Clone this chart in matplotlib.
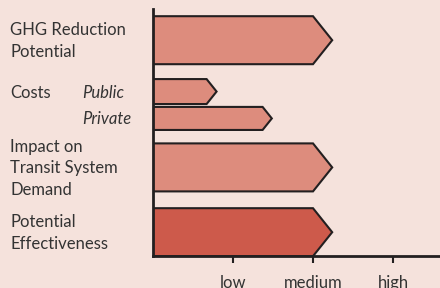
import matplotlib
matplotlib.use('Agg')
import matplotlib.pyplot as plt
from matplotlib.patches import Polygon
from matplotlib.transforms import blended_transform_factory

# ratings on a 0..3 scale (1 = low, 2 = medium, 3 = high)
labels = ['GHG Reduction\nPotential', 'Costs', '', 'Impact on\nTransit System\nDemand',
          'Potential\nEffectiveness']
sub_labels = ['', 'Public', 'Private', '', '']
values = [2.0, 0.67, 1.37, 2.0, 2.0]
tick_values = [1, 2, 3]
tick_labels = ['low', 'medium', 'high']

# layout: bar centres / heights (top-down), and which bar is highlighted
y_pos = [0.65, 1.72, 2.28, 3.3, 4.65]
heights = [1.0, 0.52, 0.48, 1.0, 1.0]
fills = ['#dd8c7d', '#dd8c7d', '#dd8c7d', '#dd8c7d', '#cd5a4b']

bg = '#f5e2dc'
edge = '#231f20'
plt.rcParams['font.family'] = ['Lato', 'DejaVu Sans']

fig = plt.figure(figsize=(4.4, 2.88), dpi=100, facecolor=bg)
ax = fig.add_axes([153 / 440, (288 - 256) / 288, 287 / 440, 247 / 288])
ax.set_facecolor(bg)
ax.set_xlim(0, 287 / 80)
ax.set_ylim(5.146, 0)

for v, y, h, c in zip(values, y_pos, heights, fills):
    tip = 0.24 * h
    pts = [(0, y - h / 2), (v, y - h / 2), (v + tip, y), (v, y + h / 2), (0, y + h / 2)]
    ax.add_patch(Polygon(pts, closed=True, facecolor=c, edgecolor=edge,
                         linewidth=1.5, joinstyle='miter', zorder=3))

for s in ['top', 'right']:
    ax.spines[s].set_visible(False)
for s in ['left', 'bottom']:
    ax.spines[s].set_color(edge)
    ax.spines[s].set_linewidth(2)
    ax.spines[s].set_zorder(4)

ax.set_yticks([])
ax.set_xticks(tick_values)
ax.set_xticklabels(tick_labels)
ax.tick_params(axis='x', direction='out', length=5, width=1.5, color=edge,
               pad=9, labelsize=12, labelcolor='#333333')

tr = blended_transform_factory(fig.transFigure, ax.transData)
for lab, sub, y in zip(labels, sub_labels, y_pos):
    if lab:
        ax.text(10 / 440, y + 0.02, lab, transform=tr, ha='left', va='center',
                fontsize=12, color='#333333', linespacing=1.45)
    if sub:
        ax.text(82 / 440, y + 0.02, sub, transform=tr, ha='left', va='center',
                fontsize=12, color='#333333', style='italic')

fig.savefig('out.png', dpi=100, facecolor=bg)
